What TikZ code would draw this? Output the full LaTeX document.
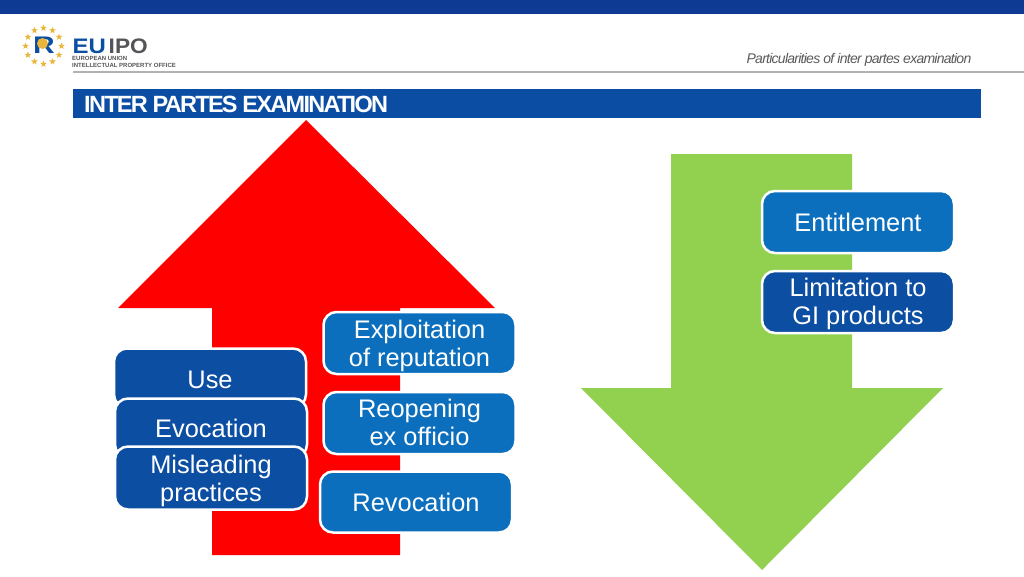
\documentclass[tikz,border=0pt]{standalone}
\usepackage{fontspec}
\setmainfont{Liberation Sans}
\usetikzlibrary{shapes.geometric}
\definecolor{barblue}{HTML}{0F3A94}
\definecolor{titleblue}{HTML}{0B4DA2}
\definecolor{boxdark}{HTML}{0B4EA2}
\definecolor{boxlight}{HTML}{0B6FBD}
\definecolor{arrowgreen}{HTML}{92D050}
\definecolor{logogold}{HTML}{E9B63B}
\definecolor{logogrey}{HTML}{555559}
\newcommand{\topgap}[1]{\rule{0pt}{#1}}
\tikzset{
  topicbox/.style={draw=white, line width=2.5pt, rounded corners=13pt, text=white, align=center,
    minimum width=192pt, inner sep=0pt, font=\fontsize{25.4}{28}\selectfont},
  darkbox/.style={topicbox, fill=boxdark},
  lightbox/.style={topicbox, fill=boxlight},
  euface/.style={inner sep=0pt, anchor=base west},
  logostar/.style={star, star points=5, star point ratio=2.4, fill=logogold, inner sep=0pt, minimum size=7pt}
}
\begin{document}
\begin{tikzpicture}[x=1pt, y=-1pt]
  \useasboundingbox (0,0) rectangle (1024,576);
  % header
  \fill[barblue] (0,0) rectangle (1024,14);
  \draw[black!30, line width=1.5pt] (73,72) -- (1024,72);
  \fill[titleblue] (73,89) rectangle (981,118);
  \node[inner sep=0pt, anchor=base west, text=white, font=\fontsize{23.5}{26}\bfseries\selectfont\addfontfeature{LetterSpace=-7.3}] (title) at (84,112) {INTER PARTES EXAMINATION};
  \node[inner sep=0pt, anchor=base east, text=black!65, font=\fontsize{14}{16}\itshape\selectfont\addfontfeature{LetterSpace=-5.3}] (subject) at (971.5,63) {Particularities of inter partes examination};
  % logo
  \foreach \a in {0,30,...,330}
    \node[logostar] at ({43.5+18*cos(\a)},{46+18*sin(\a)}) {};
  \node[inner sep=0pt, xscale=1.25, text=boxdark, font=\fontsize{24}{24}\bfseries\selectfont] (logoR) at (44,45.5) {R};
  \fill[logogold] (42.5,43.5) circle (5.5);
  \node[euface, xscale=1.14, text=boxdark, font=\fontsize{21}{21}\bfseries\selectfont] (logoEU) at (72.5,53) {EU};
  \node[euface, xscale=1.08, text=logogrey, font=\fontsize{21}{21}\bfseries\selectfont] (logoIPO) at (108.5,53) {IPO};
  \node[euface, text=logogrey, font=\fontsize{6}{7}\bfseries\selectfont] (logoA) at (72,60.5) {EUROPEAN UNION};
  \node[euface, text=logogrey, font=\fontsize{6}{7}\bfseries\selectfont] (logoB) at (72,67) {INTELLECTUAL PROPERTY OFFICE};
  % arrows
  \fill[red] (306,120) -- (495,308) -- (400,308) -- (400,555) -- (212,555) -- (212,308) -- (118,308) -- cycle;
  \fill[arrowgreen] (671,154) -- (852,154) -- (852,388) -- (943,388) -- (762,570) -- (581,388) -- (671,388) -- cycle;
  % left column
  \node[darkbox, minimum height=59pt] (use) at (210,378) {\topgap{20.5pt}Use};
  \node[darkbox, minimum height=59pt] (evocation) at (211,428) {Evocation};
  \node[darkbox, minimum height=63pt] (misleading) at (211,478) {\topgap{24pt}Misleading\\practices};
  % middle column
  \node[lightbox, minimum height=62pt] (exploitation) at (419.5,343) {\topgap{24pt}Exploitation\\of reputation};
  \node[lightbox, minimum height=62pt] (reopening) at (419.5,423) {Reopening\\ex officio\rule[-2pt]{0pt}{2pt}};
  \node[lightbox, minimum height=61pt] (revocation) at (416,502) {Revocation};
  % right column
  \node[lightbox, minimum height=62pt] (entitlement) at (858,222) {Entitlement};
  \node[darkbox, minimum height=62pt] (limitation) at (858,302) {\topgap{23pt}Limitation to\\GI products};
\end{tikzpicture}
\end{document}
